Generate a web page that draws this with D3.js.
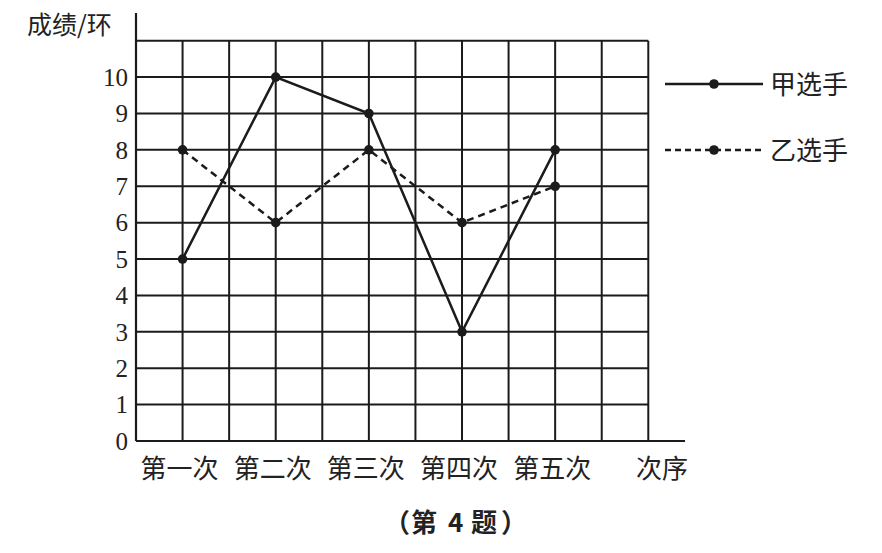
<!DOCTYPE html>
<html><head><meta charset="utf-8">
<script src="https://cdn.jsdelivr.net/npm/d3@7"></script>
<style>body{margin:0;background:#fff}svg{display:block}</style>
</head><body>
<svg id="c" width="882" height="553"></svg>
<script>
const categories = ["第一次","第二次","第三次","第四次","第五次"];
const seriesA = [5,10,9,3,8];   // 甲选手
const seriesB = [8,6,8,6,7];    // 乙选手
const seriesNames = ["甲选手","乙选手"];
const yTicks = [0,1,2,3,4,5,6,7,8,9,10];
const yTitle = "成绩/环";
const xTitle = "次序";
const captionParts = ["（","第","4","题","）"];

const svg = d3.select("#c");
const ink = "#1b1b1b";
const cjk = "'Noto Sans CJK SC', sans-serif";
const num = "'Liberation Serif', serif";

const x = d3.scaleLinear().domain([0,11]).range([136,648.3]);
const y = d3.scaleLinear().domain([0,11]).range([441,40.7]);
const catX = i => x(i*2+1);

const g = svg.append("g");
// grid
g.selectAll(".h").data(d3.range(1,12)).join("line")
  .attr("x1",x(0)).attr("x2",x(11)).attr("y1",d=>y(d)).attr("y2",d=>y(d))
  .attr("stroke",ink).attr("stroke-width",2);
g.selectAll(".v").data(d3.range(1,12)).join("line")
  .attr("x1",d=>x(d)).attr("x2",d=>x(d)).attr("y1",y(0)).attr("y2",y(11))
  .attr("stroke",ink).attr("stroke-width",2);
// axes
g.append("line").attr("x1",x(0)).attr("x2",685).attr("y1",y(0)).attr("y2",y(0))
  .attr("stroke",ink).attr("stroke-width",2.2);
g.append("line").attr("x1",x(0)).attr("x2",x(0)).attr("y1",y(0)).attr("y2",13)
  .attr("stroke",ink).attr("stroke-width",2.2);

// y tick labels
g.selectAll(".yt").data(yTicks).join("text")
  .attr("x",128).attr("y",d=>y(d)).attr("dy","0.35em")
  .attr("text-anchor","end").attr("font-family",num).attr("font-size",25)
  .attr("fill","#222").text(d=>d);
// y title
g.append("text").attr("x",27).attr("y",25).attr("dy","0.36em")
  .attr("font-family",cjk).attr("font-size",25).attr("fill","#222").text(yTitle);
// x category labels
g.selectAll(".xt").data(categories).join("text")
  .attr("x",(d,i)=>catX(i)-3).attr("y",469).attr("dy","0.36em")
  .attr("text-anchor","middle").attr("font-family",cjk).attr("font-size",26)
  .attr("fill","#222").text(d=>d);
g.append("text").attr("x",662).attr("y",469).attr("dy","0.36em")
  .attr("text-anchor","middle").attr("font-family",cjk).attr("font-size",26)
  .attr("fill","#222").text(xTitle);
// caption: pieces placed with the spacing seen in the reference
const capX = [384, 411, 448, 471, 501];
const cap = g.append("text").attr("y",523).attr("dy","0.36em")
  .attr("font-family",cjk).attr("font-size",26)
  .attr("font-weight","bold").attr("fill","#222");
captionParts.forEach((p,i)=>cap.append("tspan").attr("x",capX[i]).text(p));

// series
const line = d3.line().x((d,i)=>catX(i)).y(d=>y(d));
g.append("path").attr("d",line(seriesB)).attr("fill","none").attr("stroke",ink)
  .attr("stroke-width",2.5).attr("stroke-dasharray","7,5");
g.append("path").attr("d",line(seriesA)).attr("fill","none").attr("stroke",ink)
  .attr("stroke-width",2.5);
g.selectAll(".pb").data(seriesB).join("circle")
  .attr("cx",(d,i)=>catX(i)).attr("cy",d=>y(d)).attr("r",4.8).attr("fill",ink);
g.selectAll(".pa").data(seriesA).join("circle")
  .attr("cx",(d,i)=>catX(i)).attr("cy",d=>y(d)).attr("r",4.8).attr("fill",ink);

// legend
const legY = [84,150];
const dash = [null,"6,4"];
seriesNames.forEach((n,k)=>{
  g.append("line").attr("x1",665).attr("x2",763).attr("y1",legY[k]).attr("y2",legY[k])
    .attr("stroke",ink).attr("stroke-width",2.5).attr("stroke-dasharray",dash[k]);
  g.append("circle").attr("cx",714).attr("cy",legY[k]).attr("r",4.8).attr("fill",ink);
  g.append("text").attr("x",770).attr("y",legY[k]+1).attr("dy","0.36em")
    .attr("font-family",cjk).attr("font-size",26).attr("fill","#222").text(n);
});
</script>
</body></html>
